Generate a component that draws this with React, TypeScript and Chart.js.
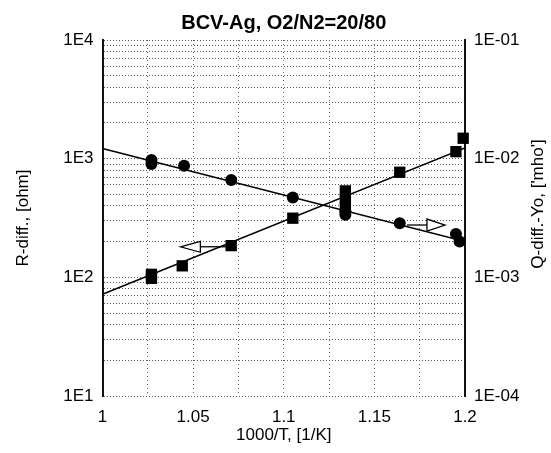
import React, { useEffect, useRef } from "react";
import { Chart, registerables } from "chart.js";

Chart.register(...registerables);

// ---- text ----
const titleText = "BCV-Ag, O2/N2=20/80";
const xTitle = "1000/T, [1/K]";
const yLeftTitle = "R-diff., [ohm]";
const yRightTitle = "Q-diff.-Yo, ['mho']";

// ---- axes / ticks ----
const xMin = 1;
const xMax = 1.2;
const xGridValues = [1, 1.025, 1.05, 1.075, 1.1, 1.125, 1.15, 1.175, 1.2];
const xLabelValues = [1, 1.05, 1.1, 1.15, 1.2];
const xLabels = ["1", "1.05", "1.1", "1.15", "1.2"];

const leftMin = 10;
const leftMax = 10000;
const leftGridValues = [
  10, 20, 30, 40, 50, 60, 70, 80, 90,
  100, 200, 300, 400, 500, 600, 700, 800, 900,
  1000, 2000, 3000, 4000, 5000, 6000, 7000, 8000, 9000,
  10000,
];
const leftLabelValues = [10, 100, 1000, 10000];
const leftLabels = ["1E1", "1E2", "1E3", "1E4"];

const rightMin = 1e-4;
const rightMax = 1e-1;
const rightTickValues = [1e-4, 1e-3, 1e-2, 1e-1];
const rightLabels = ["1E-04", "1E-03", "1E-02", "1E-01"];

// ---- data: R-diff (squares, left axis) ----
const rX = [1.027, 1.027, 1.044, 1.071, 1.105, 1.134, 1.134, 1.134, 1.164, 1.195, 1.199];
const rY = [98, 106, 125, 185, 315, 535, 457, 389, 768, 1146, 1486];

// ---- data: Q-diff (circles, right axis) ----
const qX = [1.027, 1.027, 1.045, 1.071, 1.105, 1.134, 1.134, 1.164, 1.195, 1.197];
const qY = [0.00975, 0.009, 0.0087, 0.0066, 0.0047, 0.0036, 0.00336, 0.00286, 0.00232, 0.002];

// ---- fitted lines ----
const fitX = [1.0, 1.2];
const fitR = [72, 1230];
const fitQ = [0.0122, 0.002];

// ---- axis-pointer arrows: [tail, triangle base, tip] in x units ----
const arrowLeftX = [1.071, 1.054, 1.043];
const arrowLeftY = 181; // on R axis
const arrowRightX = [1.168, 1.179, 1.189];
const arrowRightY = 0.00276; // on Q axis

const FONT = "'Liberation Sans', Arial, Helvetica, sans-serif";

const arrowPlugin = {
  id: "axisArrows",
  afterDatasetsDraw(chart: any) {
    const { ctx, scales } = chart;
    const draw = (xs: number[], yPix: number, half: number) => {
      const [t, b, p] = xs.map((v) => scales.x.getPixelForValue(v));
      ctx.save();
      ctx.strokeStyle = "#000";
      ctx.lineWidth = 1.3;
      ctx.fillStyle = "#fff";
      ctx.beginPath();
      ctx.moveTo(t, yPix);
      ctx.lineTo(b, yPix);
      ctx.stroke();
      ctx.beginPath();
      ctx.moveTo(p, yPix);
      ctx.lineTo(b, yPix - half);
      ctx.lineTo(b, yPix + half);
      ctx.closePath();
      ctx.fill();
      ctx.stroke();
      ctx.restore();
    };
    draw(arrowLeftX, scales.y.getPixelForValue(arrowLeftY), 5.5);
    draw(arrowRightX, scales.y2.getPixelForValue(arrowRightY), 6);
  },
};

const rightTitlePlugin = {
  id: "rightTitle",
  afterDraw(chart: any) {
    const { ctx, chartArea } = chart;
    ctx.save();
    ctx.translate(chartArea.right + 73, (chartArea.top + chartArea.bottom) / 2 - 14);
    ctx.rotate(-Math.PI / 2);
    ctx.font = `17px ${FONT}`;
    ctx.fillStyle = "#000";
    ctx.textAlign = "center";
    ctx.textBaseline = "middle";
    ctx.fillText(yRightTitle, 0, 0);
    ctx.restore();
  },
};

export default function App() {
  const canvasRef = useRef<HTMLCanvasElement | null>(null);

  useEffect(() => {
    document.body.style.margin = "0";
    const canvas = canvasRef.current;
    if (!canvas) return;
    Chart.defaults.font.family = FONT;
    Chart.defaults.color = "#000";

    const chart = new Chart(canvas, {
      type: "scatter",
      data: {
        datasets: [
          {
            label: "R fit",
            data: fitX.map((x, i) => ({ x, y: fitR[i] })),
            yAxisID: "y",
            showLine: true,
            borderColor: "#000",
            borderWidth: 1.5,
            pointRadius: 0,
          },
          {
            label: "Q fit",
            data: fitX.map((x, i) => ({ x, y: fitQ[i] })),
            yAxisID: "y2",
            showLine: true,
            borderColor: "#000",
            borderWidth: 1.5,
            pointRadius: 0,
          },
          {
            label: "R-diff",
            data: rX.map((x, i) => ({ x, y: rY[i] })),
            yAxisID: "y",
            showLine: false,
            pointStyle: "rect",
            pointRadius: 8,
            backgroundColor: "#000",
            borderColor: "#000",
            borderWidth: 0,
            clip: false,
          },
          {
            label: "Q-diff",
            data: qX.map((x, i) => ({ x, y: qY[i] })),
            yAxisID: "y2",
            showLine: false,
            pointStyle: "circle",
            pointRadius: 6,
            backgroundColor: "#000",
            borderColor: "#000",
            borderWidth: 0,
            clip: false,
          },
        ],
      } as any,
      options: {
        responsive: false,
        animation: false,
        events: [],
        devicePixelRatio: 1,
        layout: { padding: 0 },
        plugins: {
          legend: { display: false },
          tooltip: { enabled: false },
          title: {
            display: true,
            text: titleText,
            color: "#000",
            fullSize: false,
            font: { size: 20, weight: "bold", family: FONT },
            padding: { top: 11, bottom: 5 },
          },
        },
        scales: {
          x: {
            type: "linear",
            position: "bottom",
            min: xMin,
            max: xMax,
            afterBuildTicks: (s: any) => {
              s.ticks = xGridValues.map((v) => ({ value: v }));
            },
            afterFit: (s: any) => {
              s.height = 57;
            },
            ticks: {
              autoSkip: false,
              maxRotation: 0,
              padding: 11,
              color: "#000",
              font: { size: 17 },
              callback: (v: any) => {
                const i = xLabelValues.findIndex((l) => Math.abs(l - Number(v)) < 1e-6);
                return i >= 0 ? xLabels[i] : "";
              },
            },
            grid: { color: "#666", lineWidth: 1, drawTicks: false },
            border: { display: false, dash: [1, 3] },
            title: {
              display: true,
              text: xTitle,
              color: "#000",
              font: { size: 17 },
              padding: { top: 0, bottom: 7 },
            },
          },
          y: {
            type: "logarithmic",
            position: "left",
            min: leftMin,
            max: leftMax,
            afterBuildTicks: (s: any) => {
              s.ticks = leftGridValues.map((v) => ({ value: v }));
            },
            afterFit: (s: any) => {
              s.width = 102.5;
            },
            ticks: {
              autoSkip: false,
              padding: 9,
              color: "#000",
              font: { size: 17 },
              callback: (v: any) => {
                const i = leftLabelValues.findIndex((l) => Math.abs(l - Number(v)) < 1e-6);
                return i >= 0 ? leftLabels[i] : "";
              },
            },
            grid: { color: "#555", lineWidth: 1, drawTicks: false },
            border: { display: true, color: "#111", width: 2, dash: [1, 2] },
            title: {
              display: true,
              text: yLeftTitle,
              color: "#000",
              font: { size: 17 },
              padding: { top: 13, bottom: 0 },
            },
          },
          y2: {
            type: "logarithmic",
            position: "right",
            min: rightMin,
            max: rightMax,
            afterBuildTicks: (s: any) => {
              s.ticks = rightTickValues.map((v) => ({ value: v }));
            },
            afterFit: (s: any) => {
              s.width = 86;
            },
            ticks: {
              autoSkip: false,
              padding: 9,
              color: "#000",
              font: { size: 17 },
              callback: (_v: any, i: number) => rightLabels[i],
            },
            grid: { drawOnChartArea: false, drawTicks: false },
            border: { display: true, color: "#111", width: 2 },
          },
        },
      } as any,
      plugins: [arrowPlugin, rightTitlePlugin],
    });

    return () => {
      chart.destroy();
    };
  }, []);

  return (
    <div style={{ position: "absolute", left: 0, top: 0, width: 551, height: 453, background: "#fff" }}>
      <canvas ref={canvasRef} width={551} height={453} />
    </div>
  );
}
